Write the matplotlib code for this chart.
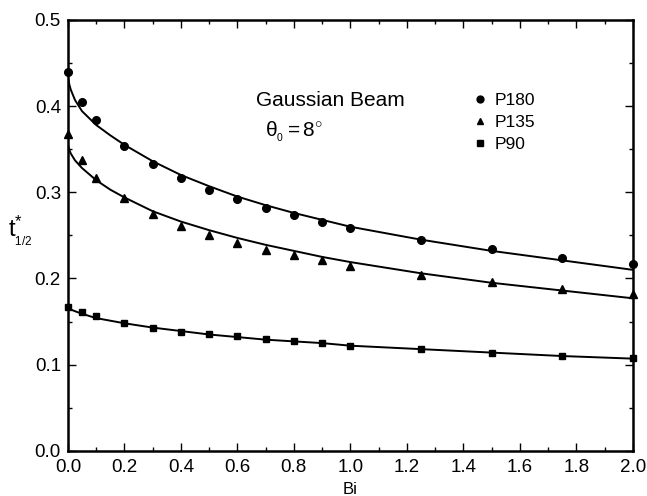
import matplotlib
matplotlib.use('Agg')
import matplotlib.pyplot as plt
from matplotlib.ticker import MultipleLocator

plt.rcParams['font.family'] = ['Liberation Sans', 'DejaVu Sans']
plt.rcParams['mathtext.fontset'] = 'custom'
plt.rcParams['mathtext.rm'] = 'Liberation Sans'
plt.rcParams['mathtext.it'] = 'Liberation Sans:italic'

# measured points
bi = [0.0, 0.05, 0.1, 0.2, 0.3, 0.4, 0.5, 0.6, 0.7, 0.8, 0.9, 1.0, 1.25, 1.5, 1.75, 2.0]
p180 = [0.440, 0.405, 0.384, 0.354, 0.333, 0.316, 0.303, 0.292, 0.282, 0.274, 0.266, 0.258, 0.245, 0.234, 0.224, 0.217]
p135 = [0.368, 0.337, 0.317, 0.293, 0.275, 0.261, 0.250, 0.241, 0.233, 0.227, 0.221, 0.215, 0.204, 0.196, 0.188, 0.182]
p90 = [0.167, 0.161, 0.156, 0.148, 0.142, 0.138, 0.135, 0.133, 0.130, 0.127, 0.125, 0.122, 0.118, 0.114, 0.110, 0.108]

# fitted curves
bi_fit = [0.0, 0.005, 0.01, 0.025, 0.05, 0.1, 0.15, 0.2, 0.3, 0.4, 0.5, 0.6, 0.7, 0.8, 0.9, 1.0, 1.25, 1.5, 1.75, 2.0]
fit180 = [0.433, 0.425, 0.419, 0.407, 0.394, 0.378, 0.366, 0.355, 0.336, 0.320, 0.307, 0.295, 0.285, 0.276, 0.268, 0.260, 0.245, 0.232, 0.221, 0.210]
fit135 = [0.355, 0.349, 0.345, 0.337, 0.328, 0.314, 0.303, 0.294, 0.278, 0.266, 0.256, 0.247, 0.239, 0.232, 0.225, 0.219, 0.206, 0.195, 0.186, 0.177]
fit90 = [0.166, 0.165, 0.164, 0.162, 0.159, 0.154, 0.151, 0.148, 0.143, 0.139, 0.135, 0.132, 0.129, 0.127, 0.125, 0.122, 0.118, 0.114, 0.110, 0.107]

fig = plt.figure(figsize=(6.47, 4.96), dpi=100)
ax = fig.add_axes([0.105, 0.091, 0.873, 0.869])

ax.plot(bi_fit, fit180, color='black', lw=1.4)
ax.plot(bi_fit, fit135, color='black', lw=1.4)
ax.plot(bi_fit, fit90, color='black', lw=1.4)

ax.plot(bi, p180, 'o', color='black', ms=5.5, clip_on=False, label='P180')
ax.plot(bi, p135, '^', color='black', ms=5.5, clip_on=False, label='P135')
ax.plot(bi, p90, 's', color='black', ms=4.5, clip_on=False, label='P90')

ax.set_xlim(0, 2.0)
ax.set_ylim(0, 0.5)
ax.xaxis.set_major_locator(MultipleLocator(0.2))
ax.xaxis.set_minor_locator(MultipleLocator(0.1))
ax.yaxis.set_major_locator(MultipleLocator(0.1))
ax.yaxis.set_minor_locator(MultipleLocator(0.05))
ax.xaxis.set_major_formatter(plt.FormatStrFormatter('%.1f'))
ax.yaxis.set_major_formatter(plt.FormatStrFormatter('%.1f'))
ax.tick_params(which='both', direction='in', top=True, right=True, labelsize=13.5, width=1)
ax.tick_params(which='major', length=6)
ax.tick_params(axis='x', which='major', pad=6)
ax.tick_params(axis='y', which='major', pad=5)
ax.tick_params(which='minor', length=3)
for s in ax.spines.values():
    s.set_linewidth(1.8)

ax.set_xlabel('Bi', fontsize=12, labelpad=4)
ax.set_ylabel(r'$\mathrm{t}^{*}_{_{1/2}}$', fontsize=17, rotation=0)
ax.yaxis.set_label_coords(-0.085, 0.47)

ax.text(0.333, 0.814, 'Gaussian Beam', transform=ax.transAxes, fontsize=15, va='center')
ax.text(0.349, 0.74, r'$\mathrm{\theta_{_0} = 8^{\circ}}$', transform=ax.transAxes, fontsize=15, va='center')

ax.legend(loc='upper left', bbox_to_anchor=(0.718, 0.83), frameon=False, fontsize=12.5,
          handlelength=0.8, handletextpad=0.4, labelspacing=0.4, markerscale=0.9,
          borderaxespad=0, borderpad=0)

fig.savefig('out.png', dpi=100)
